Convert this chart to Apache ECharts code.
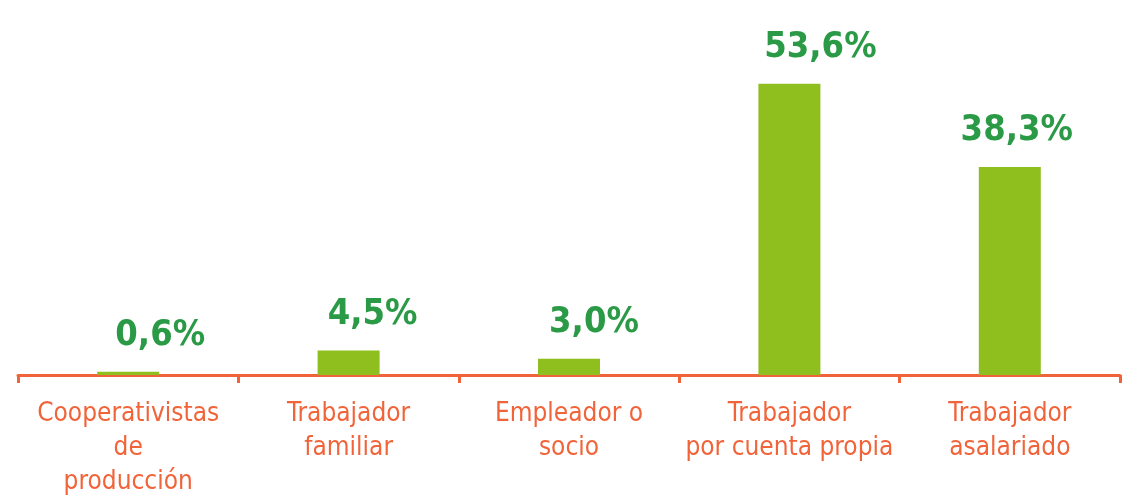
<!DOCTYPE html>
<html>
<head>
<meta charset="utf-8">
<script src="https://cdn.jsdelivr.net/npm/echarts@6/dist/echarts.min.js"></script>
<style>
  html, body { margin: 0; padding: 0; background: #ffffff; }
  #barChart { width: 1134px; height: 503px; }
</style>
</head>
<body>
<div id="barChart"></div>
<script>
// categorías y valores (%)
var categories = ['Cooperativistas\nde\nproducción', 'Trabajador\nfamiliar', 'Empleador o\nsocio', 'Trabajador\npor cuenta propia', 'Trabajador\nasalariado'];
var values = [0.6, 4.5, 3.0, 53.6, 38.3];
var valueLabels = ['0,6%', '4,5%', '3,0%', '53,6%', '38,3%'];

// desplazamiento horizontal de cada etiqueta (estilo)
var labelDx = [32, 24, 25, 31, 7];

var myChart = echarts.init(document.getElementById('barChart'));

var formattedData = values.map(function (v, i) {
  return {
    value: v,
    label: { offset: [labelDx[i], 0] }
  };
});

var option = {
  animation: false,
  grid: { left: 18, right: 14, top: 49, bottom: 128 },
  xAxis: {
    type: 'category',
    data: categories,
    axisLine: { lineStyle: { color: '#f1643a', width: 3 } },
    axisTick: { show: true, length: 8, lineStyle: { color: '#f1643a', width: 3 } },
    axisLabel: {
      color: '#f1643a',
      fontFamily: '"DejaVu Sans Condensed", sans-serif',
      fontSize: 26,
      lineHeight: 34,
      margin: 22,
      interval: 0
    }
  },
  yAxis: {
    type: 'value',
    min: 0,
    max: 60,
    show: false,
    splitLine: { show: false }
  },
  series: [
    {
      type: 'bar',
      barWidth: 62,
      itemStyle: { color: '#8fbe1f' },
      label: {
        show: true,
        position: 'top',
        distance: 18,
        color: '#2b9a46',
        fontFamily: '"DejaVu Sans Condensed", sans-serif',
        fontWeight: 'bold',
        fontSize: 36,
        formatter: function (p) { return valueLabels[p.dataIndex]; }
      },
      data: formattedData
    }
  ]
};

option && myChart.setOption(option);
</script>
</body>
</html>
